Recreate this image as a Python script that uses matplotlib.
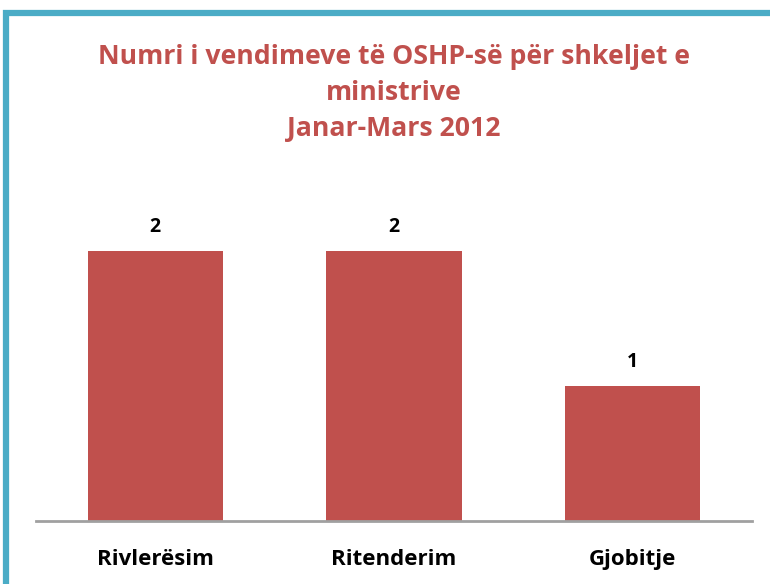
import matplotlib
matplotlib.use("Agg")
import matplotlib.pyplot as plt
from matplotlib.patches import Rectangle

categories = ["Rivlerësim", "Ritenderim", "Gjobitje"]
values = [2, 2, 1]
title = "Numri i vendimeve të OSHP-së për shkeljet e\nministrive\nJanar-Mars 2012"

W, H = 770, 584
fig = plt.figure(figsize=(W / 100, H / 100), dpi=100)
fig.patch.set_facecolor("white")

# axes: x from 36 to 752 px, baseline at y=521 px, top at 210 px
ymax = 2.3
ax = fig.add_axes([36 / W, (H - 521) / H, 716 / W, (521 - 210.5) / H])
ax.bar(range(len(categories)), values, width=0.566, color="#C0504D", zorder=2)
ax.set_xlim(-0.5, 2.5)
ax.set_ylim(0, ymax)
for s in ["top", "right", "left"]:
    ax.spines[s].set_visible(False)
ax.spines["bottom"].set_color("#A0A0A0")
ax.spines["bottom"].set_linewidth(2)
ax.set_yticks([])
ax.set_xticks(range(len(categories)))
ax.set_xticklabels(categories, fontsize=16, fontweight="bold", family="Open Sans")
ax.tick_params(axis="x", length=0, pad=20)
for i, v in enumerate(values):
    ax.annotate(str(v), (i, v), xytext=(0, 10), textcoords="offset points",
                ha="center", va="bottom", fontsize=14, fontweight="bold",
                family="Open Sans")
ax.patch.set_alpha(0)

fig.text(393.5 / W, 1 - 93 / H, title, ha="center", va="center", fontsize=19.2,
         fontweight="bold", color="#C0504D", family="Open Sans", linespacing=1.52)

# outer border
border = Rectangle((6.5 / W, -0.1), 1.2, (H - 13) / H + 0.1, transform=fig.transFigure,
                   fill=False, edgecolor="#4BACC6", linewidth=4.5, clip_on=False)
fig.patches.append(border)

fig.savefig("out.png", dpi=100)
